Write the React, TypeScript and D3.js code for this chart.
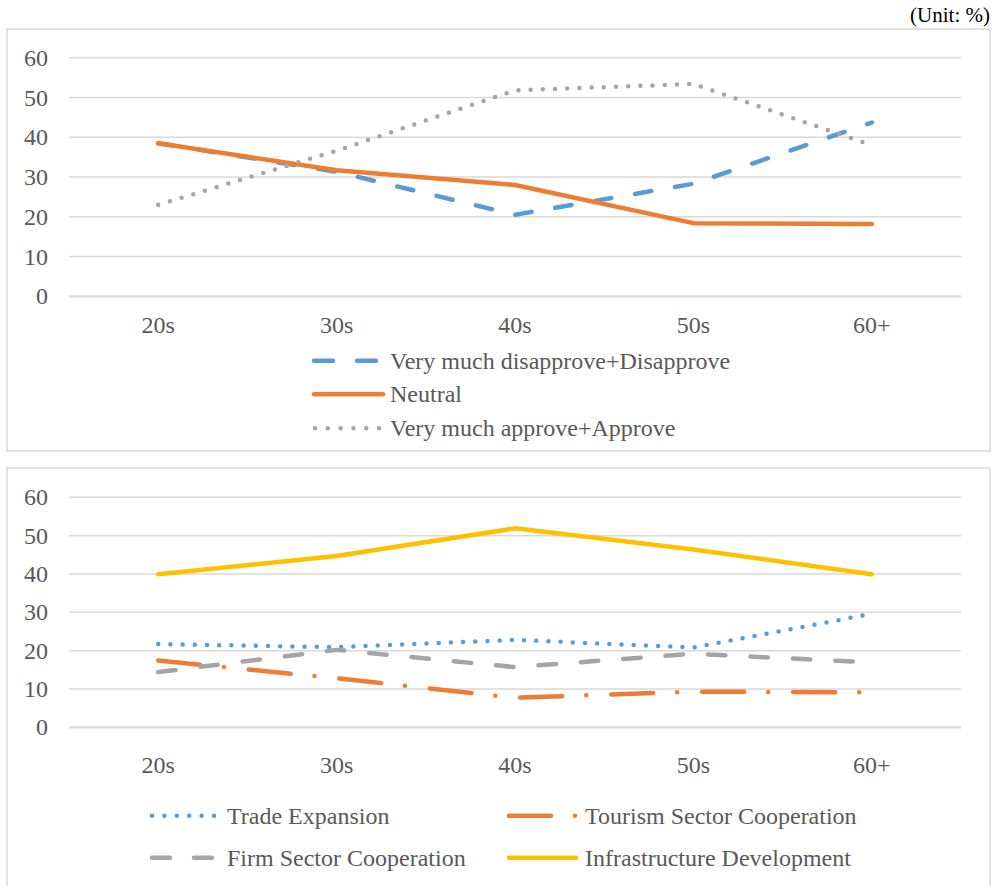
import React from "react";
import * as d3 from "d3";

const categories = ["20s", "30s", "40s", "50s", "60+"];
const yTicks = [0, 10, 20, 30, 40, 50, 60];

// Top chart series
const disapprove = [38.5, 31.3, 20.5, 28.3, 43.7];
const neutral = [38.5, 31.7, 28.0, 18.4, 18.2];
const approve = [23.0, 36.6, 51.8, 53.4, 38.0];

// Bottom chart series
const trade = [21.7, 20.9, 22.8, 20.8, 29.6];
const tourism = [17.4, 12.8, 7.7, 9.3, 9.1];
const firm = [14.4, 20.2, 15.7, 19.2, 16.9];
const infra = [39.9, 44.7, 51.9, 46.4, 39.9];

const topLegend = [
  "Very much disapprove+Disapprove",
  "Neutral",
  "Very much approve+Approve",
];
const bottomLegend = [
  "Trade Expansion",
  "Tourism Sector Cooperation",
  "Firm Sector Cooperation",
  "Infrastructure Development",
];

const FONT = "Liberation Serif, Times New Roman, DejaVu Serif, serif";
const TEXT = "#595959";
const GRID = "#d9d9d9";
const BLUE = "#5b9bd5";
const ORANGE = "#ed7d31";
const GRAY = "#a5a5a5";
const YELLOW = "#ffc000";
const LW = 4.5;

const styles = {
  dashBlue: "16.5 24",
  dashGray: "17.5 25",
  dot: "0 12.2",
  dashDot: "42 24 0 25",
};

const x = d3.scalePoint<string>().domain(categories).range([69, 961]).padding(0.5);
const yTop = d3.scaleLinear().domain([0, 60]).range([296.3, 57.7]);
const yBot = d3.scaleLinear().domain([0, 60]).range([727.3, 497.3]);

const textStyle = { fontFamily: FONT, fontSize: "24px", fill: TEXT } as React.CSSProperties;

function linePath(vals: number[], y: d3.ScaleLinear<number, number>) {
  const gen = d3
    .line<number>()
    .x((_, i) => x(categories[i]) as number)
    .y((d) => y(d));
  return gen(vals) || "";
}

function Axes({ y, labelY }: { y: d3.ScaleLinear<number, number>; labelY: number }) {
  return (
    <g>
      {yTicks.map((t) => (
        <g key={t}>
          <line
            x1={69}
            x2={961}
            y1={y(t)}
            y2={y(t)}
            stroke={GRID}
            strokeWidth={t === 0 ? 2.2 : 1.5}
          />
          <text x={48} y={y(t)} dy="0.34em" textAnchor="end" style={textStyle}>
            {t}
          </text>
        </g>
      ))}
      {categories.map((c) => (
        <text key={c} x={x(c) as number} y={labelY} textAnchor="middle" style={textStyle}>
          {c}
        </text>
      ))}
    </g>
  );
}

function Series({
  vals,
  y,
  color,
  dash,
}: {
  vals: number[];
  y: d3.ScaleLinear<number, number>;
  color: string;
  dash?: string;
}) {
  return (
    <path
      d={linePath(vals, y)}
      fill="none"
      stroke={color}
      strokeWidth={LW}
      strokeLinecap="round"
      strokeLinejoin="round"
      strokeDasharray={dash}
    />
  );
}

function LegendItem({
  x1,
  x2,
  tx,
  cy,
  color,
  dash,
  label,
}: {
  x1: number;
  x2: number;
  tx: number;
  cy: number;
  color: string;
  dash?: string;
  label: string;
}) {
  return (
    <g>
      <line
        x1={x1}
        x2={x2}
        y1={cy}
        y2={cy}
        stroke={color}
        strokeWidth={LW}
        strokeLinecap="round"
        strokeDasharray={dash}
      />
      <text x={tx} y={cy} dy="0.34em" style={textStyle}>
        {label}
      </text>
    </g>
  );
}

export default function App() {
  return (
    <svg
      width={997}
      height={886}
      style={{ position: "absolute", left: 0, top: 0, background: "#fff" }}
    >
      <rect x={0} y={0} width={997} height={886} fill="#fff" />
      <text
        x={990}
        y={22}
        textAnchor="end"
        style={{ fontFamily: FONT, fontSize: "21px", fill: "#000" }}
      >
        (Unit: %)
      </text>

      {/* Top panel */}
      <rect x={7} y={29} width={983} height={422} fill="none" stroke={GRID} strokeWidth={1.5} />
      <Axes y={yTop} labelY={333} />
      <Series vals={disapprove} y={yTop} color={BLUE} dash={styles.dashBlue} />
      <Series vals={neutral} y={yTop} color={ORANGE} />
      <Series vals={approve} y={yTop} color={GRAY} dash={styles.dot} />

      <LegendItem x1={314} x2={381} tx={390} cy={360.7} color={BLUE} dash="19 24" label={topLegend[0]} />
      <LegendItem x1={314} x2={383} tx={390} cy={394.3} color={ORANGE} label={topLegend[1]} />
      <LegendItem x1={315} x2={380} tx={390} cy={428.3} color={GRAY} dash="0 12.8" label={topLegend[2]} />

      {/* Bottom panel */}
      <rect x={7} y={468} width={983} height={430} fill="none" stroke={GRID} strokeWidth={1.5} />
      <Axes y={yBot} labelY={773} />
      <Series vals={trade} y={yBot} color={BLUE} dash={styles.dot} />
      <Series vals={tourism} y={yBot} color={ORANGE} dash={styles.dashDot} />
      <Series vals={firm} y={yBot} color={GRAY} dash={styles.dashGray} />
      <Series vals={infra} y={yBot} color={YELLOW} />

      <LegendItem x1={152} x2={214} tx={227} cy={815.7} color={BLUE} dash="0 12.4" label={bottomLegend[0]} />
      <LegendItem x1={509} x2={577} tx={585} cy={815.7} color={ORANGE} dash="42 24 0 25" label={bottomLegend[1]} />
      <LegendItem x1={152} x2={212} tx={227} cy={857.7} color={GRAY} dash="18 24" label={bottomLegend[2]} />
      <LegendItem x1={509} x2={576} tx={585} cy={857.7} color={YELLOW} label={bottomLegend[3]} />
    </svg>
  );
}
